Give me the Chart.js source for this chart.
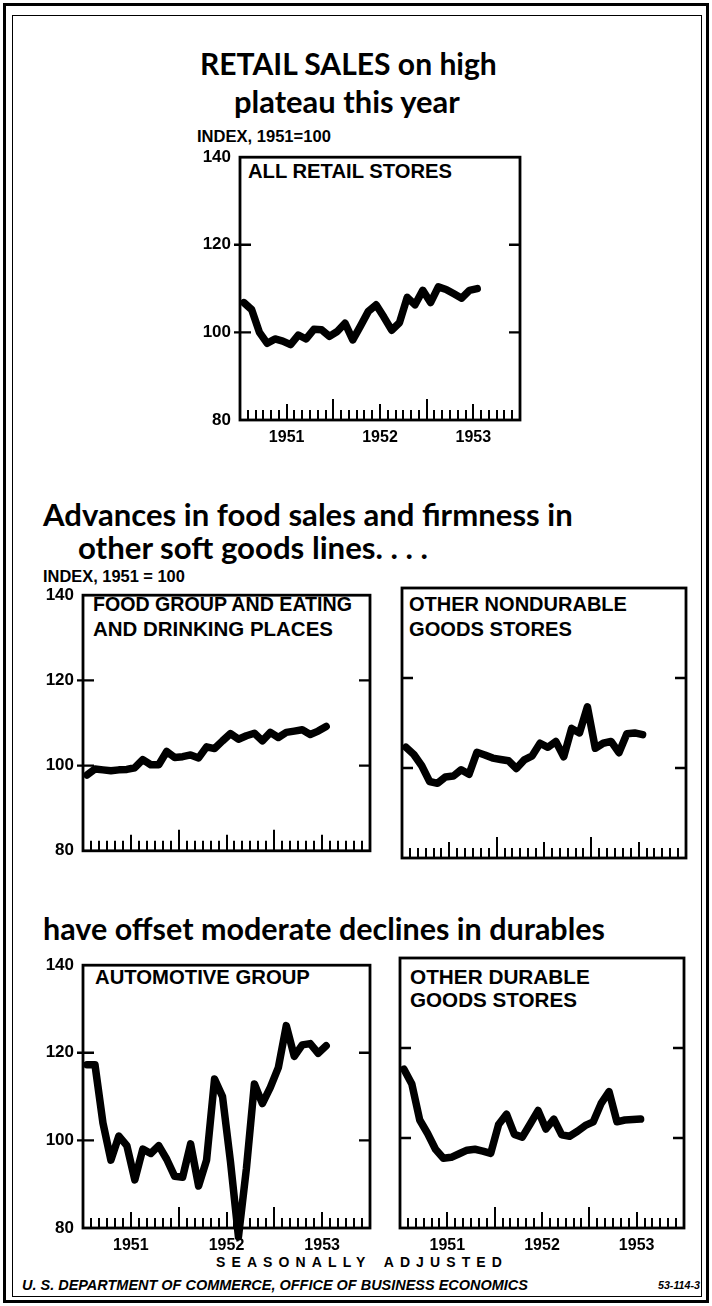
<!DOCTYPE html>
<html>
<head>
<meta charset="utf-8">
<script src="https://cdn.jsdelivr.net/npm/chart.js@4.4.1/dist/chart.umd.min.js"></script>
<style>
  html, body { margin: 0; padding: 0; background: #fff; }
  body { width: 712px; height: 1306px; position: relative; overflow: hidden; }
  .t { position: absolute; white-space: nowrap; line-height: 1; color: #000; transform: translateY(-50%); }
  .head { font-family: Lato, 'Noto Sans', sans-serif; font-weight: bold; font-size: 28px; }
  .lab { font-family: 'Liberation Sans', Arial, sans-serif; font-weight: bold; font-size: 16px; }
  .foot { font-family: 'Liberation Sans', Arial, sans-serif; font-weight: bold; font-style: italic; font-size: 12px; }
  canvas { position: absolute; }
  .frame { position: absolute; box-sizing: border-box; }
</style>
</head>
<body>
<div class="frame" style="left:3px;top:3px;width:706px;height:1300px;border:3px solid #000"></div>
<div class="frame" style="left:12px;top:15px;width:690px;height:1282px;border:1.5px solid #000"></div>

<div class="t head" data-w="297" style="left:200px;top:63px">RETAIL SALES on high</div>
<div class="t head" data-w="226" style="left:234px;top:101px">plateau this year</div>
<div class="t lab" data-w="134" style="left:197px;top:137px">INDEX, 1951=100</div>

<div class="t head" data-w="530" style="left:43px;top:515px">Advances in food sales and firmness in</div>
<div class="t head" data-w="350" style="left:78px;top:548px">other soft goods lines. . . .</div>
<div class="t lab" data-w="142" style="left:43px;top:576px">INDEX, 1951 = 100</div>

<div class="t head" data-w="562" style="left:43px;top:928px">have offset moderate declines in durables</div>

<div class="t lab" data-w="204" style="left:248px;top:171px">ALL RETAIL STORES</div>
<div class="t lab" data-w="259" style="left:93px;top:605px">FOOD GROUP AND EATING</div>
<div class="t lab" data-w="240" style="left:93px;top:629px">AND DRINKING PLACES</div>
<div class="t lab" data-w="218" style="left:409px;top:604px">OTHER NONDURABLE</div>
<div class="t lab" data-w="163" style="left:409px;top:629px">GOODS STORES</div>
<div class="t lab" data-w="215" style="left:95px;top:977px">AUTOMOTIVE GROUP</div>
<div class="t lab" data-w="180" style="left:410px;top:977px">OTHER DURABLE</div>
<div class="t lab" data-w="167" style="left:410px;top:1000px">GOODS STORES</div>

<div class="t lab" id="seas" data-ls="292" style="left:216px;top:1262px;font-size:14px;word-spacing:3px">SEASONALLY ADJUSTED</div>
<div class="t foot" data-w="506" style="left:22px;top:1285px">U. S. DEPARTMENT OF COMMERCE, OFFICE OF BUSINESS ECONOMICS</div>
<div class="t foot" data-w="42" style="left:658px;top:1285px">53-114-3</div>

<script>
// months on the time axis (Jan 1951 - Dec 1953)
const months = [
  'Jan 1951','Feb 1951','Mar 1951','Apr 1951','May 1951','Jun 1951','Jul 1951','Aug 1951','Sep 1951','Oct 1951','Nov 1951','Dec 1951',
  'Jan 1952','Feb 1952','Mar 1952','Apr 1952','May 1952','Jun 1952','Jul 1952','Aug 1952','Sep 1952','Oct 1952','Nov 1952','Dec 1952',
  'Jan 1953','Feb 1953','Mar 1953','Apr 1953','May 1953','Jun 1953','Jul 1953','Aug 1953','Sep 1953','Oct 1953','Nov 1953','Dec 1953'
];
const yearLabels = ['1951', '1952', '1953'];
const yMin = 80, yMax = 140, yStep = 20;
const yMarks = [100, 120];

// index, 1951 = 100, seasonally adjusted (Jan 1951 - Jul 1953)
const allRetail = [106.8, 105.2, 100, 97.5, 98.5, 98, 97.2, 99.4, 98.5, 100.7, 100.6, 99.1,
  100.2, 102.1, 98.3, 101.5, 104.8, 106.3, 103.5, 100.5, 102.2, 108, 106.3, 109.6,
  106.8, 110.4, 109.8, 108.8, 107.8, 109.6, 110];
const foodGroup = [97.8, 99.2, 99, 98.8, 99, 99.1, 99.5, 101.4, 100.2, 100.2, 103.3, 101.9,
  102.1, 102.5, 101.8, 104.4, 104, 105.8, 107.5, 106.2, 107, 107.6, 105.8, 107.8,
  106.6, 107.8, 108.1, 108.4, 107.3, 108.1, 109.2];
const otherNondurable = [104.6, 103, 100.5, 97, 96.6, 98, 98.2, 99.6, 98.6, 103.5, 102.9, 102.2,
  101.9, 101.6, 99.9, 101.8, 102.7, 105.5, 104.6, 105.9, 102.5, 108.8, 107.8, 113.6,
  104.4, 105.5, 105.9, 103.4, 107.6, 107.8, 107.4];
const automotive = [117.3, 117.3, 104, 95.5, 101, 98.8, 91, 98, 97, 98.8, 95.7, 91.8,
  91.6, 99.2, 89.6, 95.5, 114, 110, 95.1, 78, 93.6, 112.9, 108.4, 112.1,
  116.6, 126.2, 119.2, 121.8, 122.1, 119.9, 121.6];
const otherDurable = [115.3, 112, 104, 101, 97.5, 95.5, 95.7, 96.5, 97.3, 97.5, 97.1, 96.6,
  103, 105.3, 100.8, 100.2, 103.1, 106.1, 102, 104.2, 100.7, 100.4, 101.5, 102.8,
  103.6, 107.7, 110.3, 103.6, 104, 104.1, 104.2];

// fit text widths
document.querySelectorAll('[data-w]').forEach(el => {
  const target = +el.dataset.w;
  const fs = parseFloat(getComputedStyle(el).fontSize);
  const w = el.getBoundingClientRect().width;
  el.style.fontSize = (fs * target / w) + 'px';
});
const seas = document.getElementById('seas');
{
  const target = +seas.dataset.ls;
  const w = seas.getBoundingClientRect().width;
  const n = seas.textContent.length;
  seas.style.letterSpacing = ((target - w) / n) + 'px';
}

// box, month ticks and side marks
const framePlugin = {
  id: 'frame',
  afterDatasetsDraw(chart, args, opts) {
    const { ctx, chartArea: a, scales: { x, y } } = chart;
    ctx.save();
    ctx.strokeStyle = '#000';
    ctx.lineCap = 'butt';
    ctx.lineWidth = 2;
    for (let m = 1; m < months.length; m++) {
      const px = Math.round(x.getPixelForValue(m - 0.5));
      const len = m % 12 === 0 ? 21 : (m % 6 === 0 ? 16 : 10);
      ctx.beginPath();
      ctx.moveTo(px, a.bottom);
      ctx.lineTo(px, a.bottom - len);
      ctx.stroke();
    }
    ctx.lineWidth = 2.4;
    yMarks.forEach(v => {
      const py = y.getPixelForValue(v);
      ctx.beginPath();
      ctx.moveTo(a.left - (opts.outer ? 6 : 0), py);
      ctx.lineTo(a.left + 11, py);
      ctx.moveTo(a.right - 11, py);
      ctx.lineTo(a.right, py);
      ctx.stroke();
    });
    ctx.lineWidth = 2.8;
    ctx.strokeRect(a.left, a.top, a.right - a.left, a.bottom - a.top);
    ctx.restore();
  }
};

const labelFont = { family: "'Liberation Sans', Arial, sans-serif", weight: 'bold', size: 16 };

function makePanel(box, series, showYears, showY) {
  const padL = 50, padR = 10, padT = 12, padB = showYears ? 32 : 12;
  const cv = document.createElement('canvas');
  cv.width = box.r - box.l + padL + padR;
  cv.height = box.b - box.t + padT + padB;
  cv.style.left = (box.l - padL) + 'px';
  cv.style.top = (box.t - padT) + 'px';
  document.body.appendChild(cv);
  const slot = (box.r - box.l) / months.length;

  return new Chart(cv, {
    type: 'line',
    data: {
      labels: months,
      datasets: [{
        data: series,
        borderColor: '#000',
        borderWidth: 7.5,
        pointRadius: 0,
        tension: 0,
        fill: false,
        borderCapStyle: 'round',
        borderJoinStyle: 'round',
        clip: false
      }]
    },
    options: {
      responsive: false,
      animation: false,
      devicePixelRatio: 1,
      events: [],
      layout: { padding: { top: padT, right: padR, left: 0, bottom: 0 } },
      plugins: {
        legend: { display: false },
        tooltip: { enabled: false },
        frame: { outer: showY }
      },
      scales: {
        x: {
          type: 'category',
          offset: true,
          grid: { display: false, drawTicks: false },
          border: { display: false },
          afterFit(s) { s.height = padB; },
          ticks: {
            display: showYears,
            autoSkip: false,
            maxRotation: 0,
            minRotation: 0,
            padding: 8,
            labelOffset: -slot / 2,
            color: '#000',
            font: labelFont,
            callback: (v, i) => (i % 12 === 6 ? yearLabels[Math.floor(i / 12)] : '')
          }
        },
        y: {
          min: yMin,
          max: yMax,
          grid: { display: false, drawTicks: false },
          border: { display: false },
          afterFit(s) { s.width = padL; },
          ticks: {
            display: showY,
            stepSize: yStep,
            padding: 9,
            color: '#000',
            font: { ...labelFont, size: 17 }
          }
        }
      }
    },
    plugins: [framePlugin]
  });
}

makePanel({ l: 240, r: 520, t: 150, b: 420 }, allRetail, true, true);
makePanel({ l: 83, r: 370, t: 588, b: 858 }, foodGroup, false, true);
makePanel({ l: 402, r: 686, t: 588, b: 858 }, otherNondurable, false, false);
makePanel({ l: 83, r: 370, t: 958, b: 1228 }, automotive, true, true);
makePanel({ l: 400, r: 684, t: 958, b: 1228 }, otherDurable, true, false);
</script>
</body>
</html>
